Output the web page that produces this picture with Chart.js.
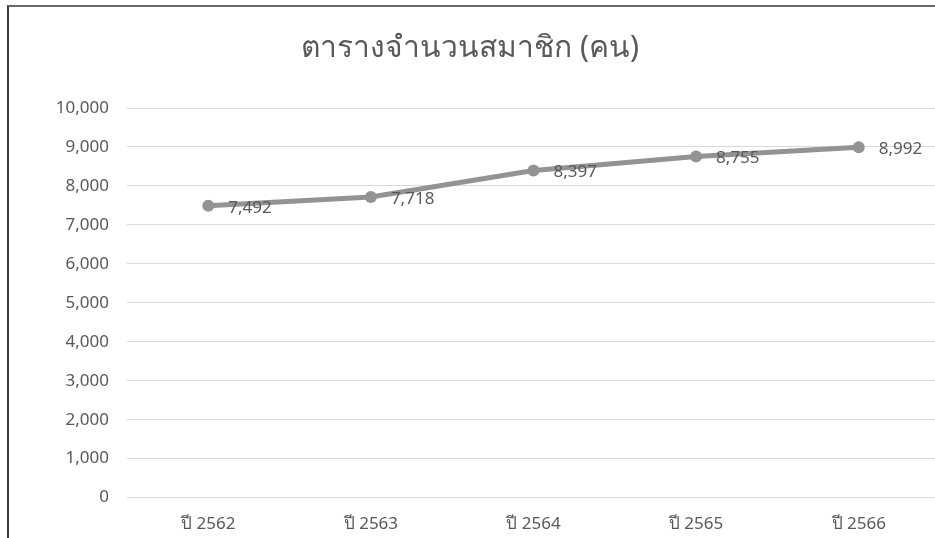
<!DOCTYPE html>
<html>
<head>
<meta charset="utf-8">
<script src="https://cdn.jsdelivr.net/npm/chart.js@4/dist/chart.umd.min.js"></script>
<style>
  html, body { margin: 0; padding: 0; background: #fff; overflow: hidden; width: 935px; height: 538px; }
  #frame { position: absolute; left: 7px; top: 5px; width: 1000px; height: 600px; border-left: 2px solid #3a3a3a; border-top: 2px solid #6a6a6a; }
  #wrap { position: absolute; left: 0; top: 0; width: 950px; height: 560px; }
</style>
</head>
<body>
<div id="frame"></div>
<div id="wrap"><canvas id="c" width="950" height="560"></canvas></div>
<script>
const categories = ["ปี 2562", "ปี 2563", "ปี 2564", "ปี 2565", "ปี 2566"];
const members = [7492, 7718, 8397, 8755, 8992];
const yTicks = [0, 1000, 2000, 3000, 4000, 5000, 6000, 7000, 8000, 9000, 10000];
const titleText = "ตารางจำนวนสมาชิก (คน)";

const FONT = "'Noto Sans', 'Open Sans', 'DejaVu Sans', sans-serif";
const textColor = "#595959";

const labelPlugin = {
  id: 'dataLabels',
  afterDatasetsDraw(chart) {
    const ctx = chart.ctx;
    const meta = chart.getDatasetMeta(0);
    ctx.save();
    ctx.font = "17px " + FONT;
    ctx.fillStyle = textColor;
    ctx.textAlign = 'left';
    ctx.textBaseline = 'middle';
    meta.data.forEach((pt, i) => {
      ctx.fillText(members[i].toLocaleString('en-US'), pt.x + 20, pt.y + 2);
    });
    ctx.restore();
  }
};

new Chart(document.getElementById('c'), {
  type: 'line',
  data: {
    labels: categories,
    datasets: [{
      data: members,
      borderColor: '#939393',
      backgroundColor: '#939393',
      borderWidth: 5,
      pointRadius: 6,
      pointHoverRadius: 6,
      pointBackgroundColor: '#939393',
      pointBorderWidth: 0,
      tension: 0
    }]
  },
  options: {
    responsive: false,
    animation: false,
    devicePixelRatio: 1,
    layout: { padding: { top: 0, right: 10, bottom: 18, left: 0 } },
    plugins: {
      legend: { display: false },
      tooltip: { enabled: false },
      title: {
        display: true,
        text: titleText,
        color: textColor,
        font: { family: FONT, size: 30, weight: 'normal' },
        padding: { top: 30, bottom: 42 }
      }
    },
    scales: {
      x: {
        offset: true,
        grid: { display: false },
        border: { display: false },
        ticks: { color: textColor, font: { family: FONT, size: 17 }, padding: 8, maxRotation: 0 }
      },
      y: {
        min: 0,
        max: 10000,
        afterBuildTicks(axis) { axis.ticks = yTicks.map(v => ({ value: v })); },
        afterFit(axis) { axis.width = 127; },
        grid: { color: '#d9d9d9', lineWidth: 1, drawTicks: false },
        border: { display: false },
        ticks: {
          color: textColor,
          font: { family: FONT, size: 17 },
          padding: 18,
          callback: v => v.toLocaleString('en-US')
        }
      }
    }
  },
  plugins: [labelPlugin]
});
</script>
</body>
</html>
